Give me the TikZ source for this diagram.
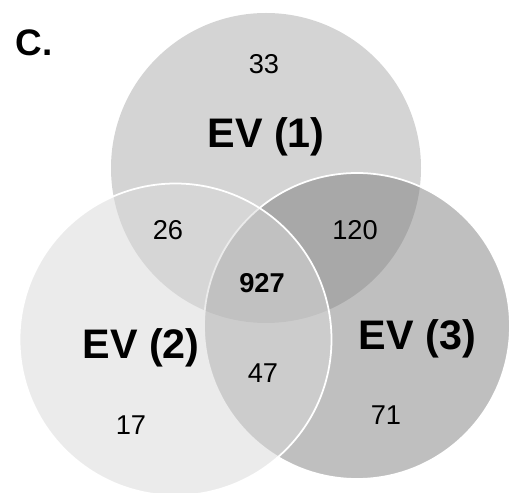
\documentclass[tikz,border=0pt]{standalone}
\usepackage{fontspec}
\setmainfont{Liberation Sans}
\usetikzlibrary{calc}

\begin{document}
\begin{tikzpicture}[line width=1pt]

    % --- Styles ---
    \tikzset{
        setname/.style={font=\fontsize{23.5}{28}\selectfont\bfseries},
        count/.style={font=\fontsize{15.5}{18}\selectfont},
        venn/.style={draw=white, draw opacity=1}
    }

    \useasboundingbox (0,0) rectangle (10.36,9.84);

    % --- Coordinates ---
    \coordinate (Top)   at (5.32, 6.48);   % EV (1)
    \coordinate (Left)  at (3.51, 3.05);   % EV (2)
    \coordinate (Right) at (7.14, 3.32);   % EV (3)

    % --- Circles ---
    % top first, then right, then left laid over with some transparency
    \fill[black!17] (Top) circle (3.10);
    \draw[venn, fill=black!53, fill opacity=0.47] (Right) circle (3.06);
    \draw[venn, fill=black!15, fill opacity=0.52] (Left) circle (3.12);

    % --- Labels ---
    \node[font=\fontsize{21}{25}\selectfont\bfseries] (panel) at (0.68, 8.99) {C.};

    \node[setname] (ev1) at (5.32, 7.10) {EV (1)};
    \node[setname] (ev2) at (2.82, 2.88) {EV (2)};
    \node[setname] (ev3) at (8.35, 3.06) {EV (3)};

    % --- Counts ---
    \node[count] (n1)   at (5.28, 8.55) {33};
    \node[count] (n12)  at (3.36, 5.24) {26};
    \node[count] (n13)  at (7.10, 5.24) {120};
    \node[count, font=\fontsize{15.5}{18}\selectfont\bfseries] (n123) at (5.24, 4.18) {927};
    \node[count] (n23)  at (5.26, 2.38) {47};
    \node[count] (n2)   at (2.62, 1.34) {17};
    \node[count] (n3)   at (7.72, 1.54) {71};

\end{tikzpicture}
\end{document}
